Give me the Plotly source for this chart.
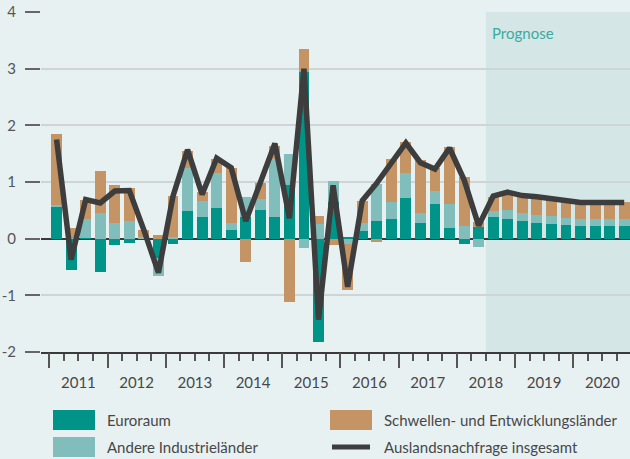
"""
Auslandsnachfrage: Beiträge nach Regionen, Quartale 2011-2020 (ab 2018Q3 Prognose).
"""

import plotly.graph_objects as go

# --- data -----------------------------------------------------------------
years = [2011, 2012, 2013, 2014, 2015, 2016, 2017, 2018, 2019, 2020]
quarters = [f"{y}Q{q}" for y in years for q in range(1, 5)]
forecast_start = "2018Q3"

euroraum = [0.57, -0.55, 0.02, -0.58, -0.12, -0.07, 0.00, -0.34,
            -0.09, 0.48, 0.39, 0.55, 0.16, 0.39, 0.51, 0.39,
            0.95, 2.95, -1.83, 0.64, 0.03, 0.14, 0.32, 0.34,
            0.71, 0.28, 0.62, 0.19, -0.09, 0.21, 0.39, 0.35,
            0.32, 0.28, 0.26, 0.25, 0.23, 0.23, 0.23, 0.23]
andere = [0.03, 0.01, 0.32, 0.46, 0.28, 0.31, 0.03, -0.32,
          0.03, 0.76, 0.27, 0.61, 0.11, 0.35, 0.19, 1.01,
          0.55, -0.17, 0.26, 0.38, -0.10, 0.14, 0.65, 0.30,
          0.45, 0.18, 0.23, 0.43, 0.23, -0.14, 0.09, 0.16,
          0.14, 0.14, 0.14, 0.12, 0.11, 0.11, 0.11, 0.12]
schwellen = [1.24, 0.17, 0.35, 0.74, 0.67, 0.58, 0.13, 0.07,
             0.73, 0.30, 0.16, 0.24, 0.97, -0.42, 0.29, 0.24,
             -1.12, 0.40, 0.14, -0.11, -0.81, 0.39, -0.05, 0.76,
             0.54, 0.92, 0.39, 0.99, 0.86, 0.08, 0.25, 0.29,
             0.29, 0.29, 0.28, 0.29, 0.29, 0.29, 0.29, 0.29]
gesamt = [1.75, -0.37, 0.69, 0.63, 0.84, 0.85, 0.15, -0.60,
          0.75, 1.57, 0.78, 1.42, 1.25, 0.31, 0.99, 1.68,
          0.36, 3.00, -1.43, 0.94, -0.85, 0.67, 0.98, 1.34,
          1.69, 1.34, 1.23, 1.60, 1.04, 0.23, 0.75, 0.82,
          0.76, 0.74, 0.70, 0.67, 0.64, 0.64, 0.64, 0.64]

y_ticks = [-2, -1, 0, 1, 2, 3, 4]

# --- style ----------------------------------------------------------------
C_EURO = "#009488"
C_ANDERE = "#80BDBB"
C_SCHWELLEN = "#C49464"
C_LINE = "#3D3D3D"
BG = "#E8F1F2"
SHADE = "#D4E6E6"
TEXT = "#474747"
FONT = "Lato"

W, H = 630, 459
M = dict(l=41, r=0, t=12, b=107)

x = list(range(len(quarters)))
x_range = [-1.07, 39.4]
fc = quarters.index(forecast_start) - 0.5


def px(xp):
    """pixel -> paper x"""
    return (xp - M["l"]) / (W - M["l"] - M["r"])


def py(yp):
    """pixel -> paper y"""
    return (H - M["b"] - yp) / (H - M["t"] - M["b"])


fig = go.Figure()
for name, vals, col in [("Euroraum", euroraum, C_EURO),
                        ("Andere Industrieländer", andere, C_ANDERE),
                        ("Schwellen- und Entwicklungsländer", schwellen, C_SCHWELLEN)]:
    fig.add_trace(go.Bar(x=x, y=vals, name=name, marker=dict(color=col, line=dict(width=0)),
                         width=0.75, showlegend=False))

fig.add_trace(go.Scatter(x=x, y=gesamt, mode="lines", name="Auslandsnachfrage insgesamt",
                         line=dict(color=C_LINE, width=5.5), showlegend=False))

# invisible trace that carries the long year-boundary ticks
year_bounds = [i - 0.5 for i in range(0, len(quarters) + 1, 4)]
fig.add_trace(go.Scatter(x=[x[0]], y=[0], xaxis="x2", mode="markers",
                         marker=dict(opacity=0), showlegend=False, hoverinfo="skip"))

fig.update_layout(
    width=W, height=H,
    margin=M,
    barmode="relative",
    bargap=0,
    paper_bgcolor=BG,
    plot_bgcolor=BG,
    font=dict(family=FONT, size=15, color=TEXT),
    xaxis=dict(
        range=x_range,
        tickvals=[4 * i + 1.5 for i in range(len(years))],
        ticktext=[str(y) for y in years],
        ticks="outside", ticklen=16, tickcolor="rgba(0,0,0,0)",
        showgrid=False, zeroline=False,
        showline=True, linecolor="#3A3A3A", linewidth=2,
        minor=dict(tickvals=[i - 0.5 for i in range(len(quarters) + 1)],
                   ticks="outside", ticklen=7, tickcolor="#555555", tickwidth=1.5),
        tickfont=dict(size=15, color=TEXT),
    ),
    xaxis2=dict(
        overlaying="x", anchor="y", side="bottom", matches="x",
        tickvals=year_bounds, showticklabels=False,
        ticks="outside", ticklen=15, tickcolor="#555555", tickwidth=1.5,
        showgrid=False, zeroline=False, showline=False,
    ),
    yaxis=dict(
        range=[-2, 4],
        tickvals=y_ticks,
        ticktext=[str(v) for v in y_ticks],
        ticks="outside", ticklen=15, tickcolor="#666666", tickwidth=2,
        ticklabelstandoff=6,
        showgrid=True, gridcolor="#CFD4D6", gridwidth=1.5,
        zeroline=True, zerolinecolor="#3A3A3A", zerolinewidth=1.5,
        tickfont=dict(size=15, color="#555555"),
    ),
)

# forecast shading
fig.add_shape(type="rect", xref="x", yref="paper", x0=fc, x1=x_range[1] + 1, y0=0, y1=1,
              fillcolor=SHADE, line=dict(width=0), layer="below")
fig.add_annotation(x=fc, xref="x", y=py(22), yref="paper", text="Prognose",
                   showarrow=False, xanchor="left", xshift=4,
                   font=dict(size=15, color="#3AABA0"))

# legend, drawn by hand to get the wide swatches
legend_items = [
    ("Euroraum", C_EURO, "box", 53, 420),
    ("Andere Industrieländer", C_ANDERE, "box", 53, 447),
    ("Schwellen- und Entwicklungsländer", C_SCHWELLEN, "box", 330, 420),
    ("Auslandsnachfrage insgesamt", C_LINE, "line", 330, 447),
]
for label, col, kind, x0, yc in legend_items:
    if kind == "box":
        fig.add_shape(type="rect", xref="paper", yref="paper",
                      x0=px(x0), x1=px(x0 + 42), y0=py(yc - 10), y1=py(yc + 10),
                      fillcolor=col, line=dict(width=0))
    else:
        fig.add_shape(type="line", xref="paper", yref="paper",
                      x0=px(x0 + 2), x1=px(x0 + 40), y0=py(yc), y1=py(yc),
                      line=dict(color=col, width=5))
    fig.add_annotation(x=px(x0 + 52), y=py(yc), xref="paper", yref="paper", text=label,
                       showarrow=False, xanchor="left", yanchor="middle",
                       font=dict(size=15, color=TEXT))

# the page's default body margin would push the figure out of the window
fig.write_html("out.html", config={"displayModeBar": False},
               post_script="document.body.style.margin='0';")
